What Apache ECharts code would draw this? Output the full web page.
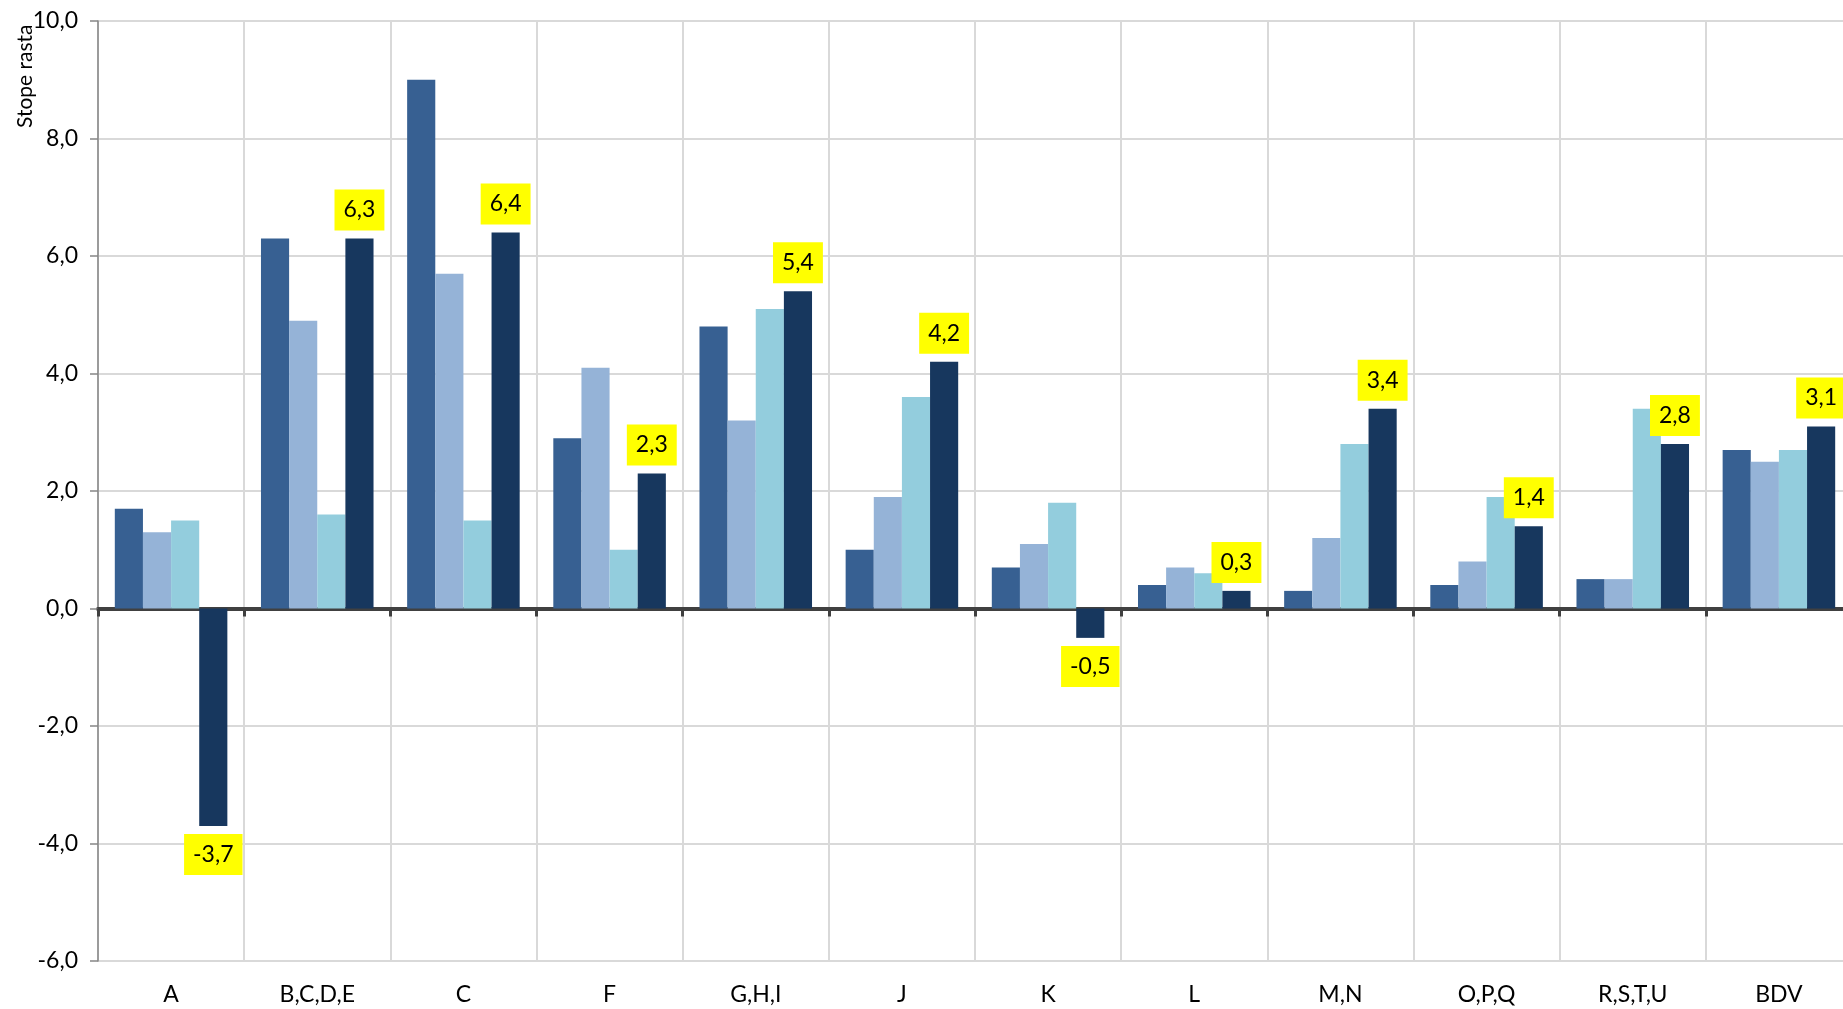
<!DOCTYPE html>
<html>
<head>
<meta charset="utf-8">
<script src="https://cdn.jsdelivr.net/npm/echarts@6/dist/echarts.min.js"></script>
<style>
html,body{margin:0;padding:0;background:#fff;overflow:hidden;}
#chart{width:1860px;height:1009px;}
</style>
</head>
<body>
<div id="chart"></div>
<script>
const categories = ['A', 'B,C,D,E', 'C', 'F', 'G,H,I', 'J', 'K', 'L', 'M,N', 'O,P,Q', 'R,S,T,U', 'BDV'];
const series1 = [1.7, 6.3, 9.0, 2.9, 4.8, 1.0, 0.7, 0.4, 0.3, 0.4, 0.5, 2.7];
const series2 = [1.3, 4.9, 5.7, 4.1, 3.2, 1.9, 1.1, 0.7, 1.2, 0.8, 0.5, 2.5];
const series3 = [1.5, 1.6, 1.5, 1.0, 5.1, 3.6, 1.8, 0.6, 2.8, 1.9, 3.4, 2.7];
const series4 = [-3.7, 6.3, 6.4, 2.3, 5.4, 4.2, -0.5, 0.3, 3.4, 1.4, 2.8, 3.1];
const yTicks = { min: -6, max: 10, interval: 2 };

const FONT = 'Lato';
const fmt = v => Number(v).toFixed(1).replace('.', ',');

const chart = echarts.init(document.getElementById('chart'), null, { renderer: 'canvas' });

const colors = ['#376092', '#95B3D7', '#93CDDD', '#17375E'];

function barSeries(name, data, color, withLabels) {
  const s = {
    name: name,
    type: 'bar',
    xAxisIndex: 0,
    barGap: '0%',
    barCategoryGap: '23%',
    itemStyle: { color: color },
    data: data.slice()
  };
  if (withLabels) {
    s.label = {
      show: true,
      position: 'top',
      distance: 8,
      formatter: p => fmt(p.value),
      backgroundColor: '#FFFF00',
      color: '#000',
      fontFamily: FONT,
      fontSize: 23,
      lineHeight: 23,
      padding: [9, 9, 9, 9]
    };
    s.data = data.map(v => v < 0 ? { value: v, label: { position: 'bottom' } } : v);
  }
  return s;
}

chart.setOption({
  animation: false,
  backgroundColor: '#ffffff',
  textStyle: { fontFamily: FONT },
  grid: { left: 98, top: 21, width: 1754, height: 940, containLabel: false },
  xAxis: [
    {
      type: 'category',
      data: categories,
      position: 'bottom',
      axisLine: { show: false, onZero: false },
      axisTick: { show: false },
      axisLabel: { show: true, color: '#000', fontFamily: FONT, fontSize: 23, margin: 22 },
      splitLine: { show: true, lineStyle: { color: '#d9d9d9', width: 2 } }
    },
    {
      type: 'category',
      data: categories,
      position: 'bottom',
      axisLine: { show: true, onZero: true, lineStyle: { color: '#404040', width: 4 } },
      axisTick: { show: true, length: 8, lineStyle: { color: '#404040', width: 3 } },
      axisLabel: { show: false },
      splitLine: { show: false }
    }
  ],
  yAxis: {
    type: 'value',
    min: yTicks.min,
    max: yTicks.max,
    interval: yTicks.interval,
    axisLine: { show: true, onZero: false, lineStyle: { color: '#868686', width: 1.5 } },
    axisTick: { show: true, length: 8, lineStyle: { color: '#868686', width: 1.5 } },
    axisLabel: { color: '#000', fontFamily: FONT, fontSize: 23, margin: 20, formatter: v => fmt(v) },
    splitLine: { show: true, lineStyle: { color: '#d9d9d9', width: 2 } }
  },
  graphic: [
    {
      type: 'text',
      x: 25,
      y: 128,
      rotation: Math.PI / 2,
      style: {
        text: 'Stope rasta',
        fill: '#000',
        font: '21px ' + FONT,
        textAlign: 'left',
        textVerticalAlign: 'middle'
      }
    }
  ],
  series: [
    barSeries('s1', series1, colors[0], false),
    barSeries('s2', series2, colors[1], false),
    barSeries('s3', series3, colors[2], false),
    barSeries('s4', series4, colors[3], true)
  ]
});
</script>
</body>
</html>
